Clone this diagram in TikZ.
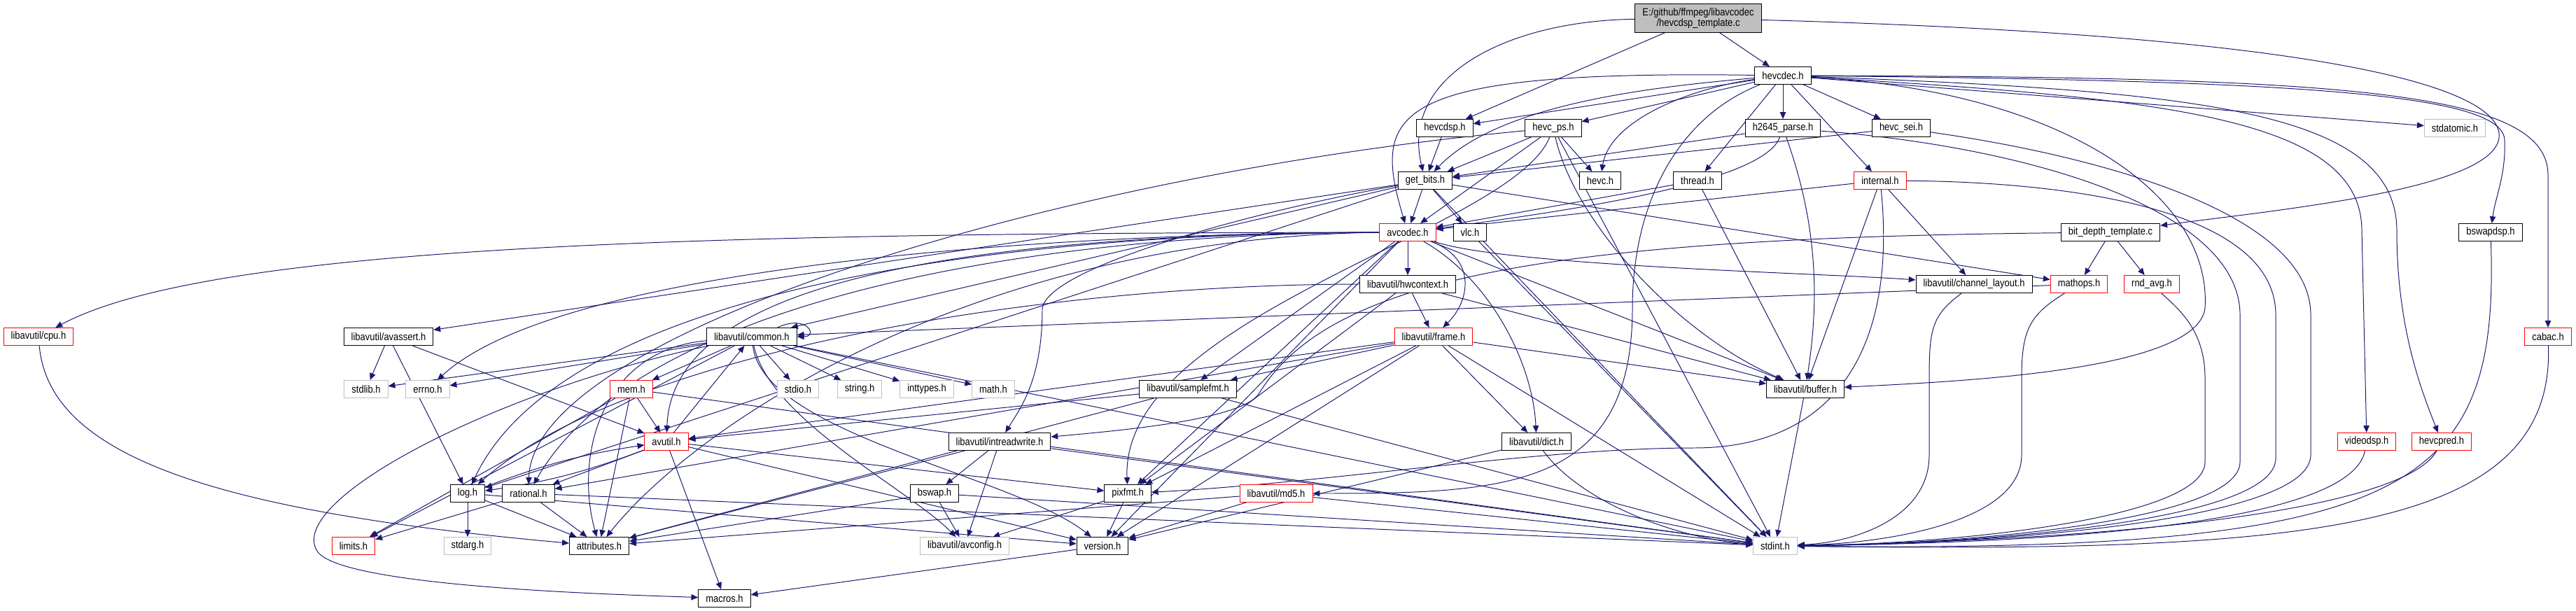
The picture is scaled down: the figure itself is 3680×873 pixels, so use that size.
\documentclass[tikz,border=0pt]{standalone}
\usepackage{fontspec}
\newfontfamily\dxfont[FakeStretch=0.87]{Liberation Sans}
\usepackage{tikz}
\usetikzlibrary{arrows.meta,backgrounds}
\definecolor{edgeblue}{RGB}{25,25,112}
\definecolor{sysgray}{RGB}{191,191,191}

\begin{document}
\begin{tikzpicture}[
  x=0.025cm, y=-0.025cm,
  box/.style={draw, fill=white, line width=0.7pt, minimum height=0.625cm, inner xsep=7.5pt, inner ysep=0pt,
    font=\dxfont\fontsize{10.6pt}{10.6pt}\selectfont},
  redbox/.style={box, draw=red},
  sysbox/.style={box, draw=sysgray},
  rootbox/.style={box, fill=sysgray, align=center, minimum height=1cm},
  arr/.style={-{Triangle[length=7pt,width=6pt]}, color=edgeblue, line width=0.7pt}
]
\useasboundingbox (0,0) rectangle (3680,873);

\node[rootbox] (root) at (2426,26) {E:/github/ffmpeg/libavcodec\\/hevcdsp\_template.c};
\node[box] (hevcdec) at (2547,108) {hevcdec.h};
\node[box] (hevcdsp) at (2064,183) {hevcdsp.h};
\node[box] (hevcps) at (2219,183) {hevc\_ps.h};
\node[box] (h2645) at (2547,183) {h2645\_parse.h};
\node[box] (hevcsei) at (2716,183) {hevc\_sei.h};
\node[sysbox] (stdatomic) at (3507,183) {stdatomic.h};
\node[box] (getbits) at (2036,258) {get\_bits.h};
\node[box] (hevch) at (2286,258) {hevc.h};
\node[box] (thread) at (2425,258) {thread.h};
\node[redbox] (internal) at (2686,258) {internal.h};
\node[redbox] (avcodec) at (2011,332) {avcodec.h};
\node[box] (vlc) at (2100,332) {vlc.h};
\node[box] (bitdepth) at (3015,332) {bit\_depth\_template.c};
\node[box] (bswapdsp) at (3558,332) {bswapdsp.h};
\node[box] (hwcontext) at (2011,406) {libavutil/hwcontext.h};
\node[box] (chlayout) at (2820,406) {libavutil/channel\_layout.h};
\node[redbox] (mathops) at (2970,406) {mathops.h};
\node[redbox] (rndavg) at (3074,406) {rnd\_avg.h};
\node[redbox] (cpu) at (55,481) {libavutil/cpu.h};
\node[box] (avassert) at (555,481) {libavutil/avassert.h};
\node[box] (common) at (1074,481) {libavutil/common.h};
\node[redbox] (frame) at (2048,481) {libavutil/frame.h};
\node[redbox] (cabac) at (3640,481) {cabac.h};
\node[sysbox] (stdlib) at (523,556) {stdlib.h};
\node[sysbox] (errno) at (611,556) {errno.h};
\node[redbox] (mem) at (902,556) {mem.h};
\node[sysbox] (stdio) at (1140,556) {stdio.h};
\node[sysbox] (string) at (1228,556) {string.h};
\node[sysbox] (inttypes) at (1324,556) {inttypes.h};
\node[sysbox] (math) at (1419,556) {math.h};
\node[box] (samplefmt) at (1697,556) {libavutil/samplefmt.h};
\node[box] (buffer) at (2579,556) {libavutil/buffer.h};
\node[redbox] (avutil) at (952,631) {avutil.h};
\node[box] (intreadwrite) at (1428,631) {libavutil/intreadwrite.h};
\node[box] (dict) at (2195,631) {libavutil/dict.h};
\node[redbox] (videodsp) at (3381,631) {videodsp.h};
\node[redbox] (hevcpred) at (3488,631) {hevcpred.h};
\node[box] (log) at (668,705) {log.h};
\node[box] (rational) at (755,705) {rational.h};
\node[box] (bswap) at (1335,705) {bswap.h};
\node[box] (pixfmt) at (1611,705) {pixfmt.h};
\node[redbox] (md5) at (1823,705) {libavutil/md5.h};
\node[redbox] (limits) at (505,780) {limits.h};
\node[sysbox] (stdarg) at (668,780) {stdarg.h};
\node[box] (attributes) at (856,780) {attributes.h};
\node[sysbox] (avconfig) at (1378,780) {libavutil/avconfig.h};
\node[box] (version) at (1575,780) {version.h};
\node[sysbox] (stdint) at (2536,780) {stdint.h};
\node[box] (macros) at (1035,855) {macros.h};

\begin{scope}[on background layer]
\draw[arr] (root) .. controls (2150,30) and (2000,110) .. (getbits);
\draw[arr] (root) -- (hevcdsp);
\draw[arr] (root) -- (hevcdec);
\draw[arr] (root) .. controls (3300,50) and (3560,120) .. (3570,190) .. controls (3580,270) and (3250,300) .. (bitdepth);

\draw[arr] (hevcdec) -- (hevcdsp);
\draw[arr] (hevcdec) -- (hevcps);
\draw[arr] (hevcdec) .. controls (2350,125) and (2140,150) .. (getbits);
\draw[arr] (hevcdec) .. controls (2420,125) and (2300,170) .. (hevch);
\draw[arr] (hevcdec) .. controls (1980,100) and (1960,160) .. (avcodec);
\draw[arr] (hevcdec) -- (thread);
\draw[arr] (hevcdec) -- (h2645);
\draw[arr] (hevcdec) -- (hevcsei);
\draw[arr] (hevcdec) -- (internal);
\draw[arr] (hevcdec) .. controls (2390,170) and (2332,300) .. (2332,440) .. controls (2332,700) and (2150,705) .. (md5);
\draw[arr] (hevcdec) .. controls (2950,130) and (3160,280) .. (3150,440) .. controls (3140,530) and (2800,545) .. (buffer);
\draw[arr] (hevcdec) -- (stdatomic);
\draw[arr] (hevcdec) .. controls (3300,115) and (3575,135) .. (3578,200) .. controls (3580,250) and (3565,280) .. (bswapdsp);
\draw[arr] (hevcdec) .. controls (3350,110) and (3640,130) .. (3640,250) -- (cabac);
\draw[arr] (hevcdec) .. controls (3100,140) and (3374,170) .. (3374,330) -- (videodsp);
\draw[arr] (hevcdec) .. controls (3150,130) and (3424,160) .. (3424,330) .. controls (3424,470) and (3460,560) .. (hevcpred);

\draw[arr] (hevcdsp) -- (getbits);
\draw[arr] (hevcps) -- (getbits);
\draw[arr] (hevcps) -- (hevch);
\draw[arr] (hevcps) -- (avcodec);
\draw[arr] (hevcps) .. controls (1500,250) and (760,480) .. (rational);
\draw[arr] (hevcps) .. controls (2160,330) and (1600,450) .. (pixfmt);
\draw[arr] (hevcps) .. controls (2250,320) and (2400,480) .. (buffer);
\draw[arr] (hevcps) -- (stdint);
\draw[arr] (h2645) -- (getbits);
\draw[arr] (h2645) .. controls (2520,260) and (2250,300) .. (avcodec);
\draw[arr] (h2645) .. controls (2600,330) and (2597,440) .. (buffer);
\draw[arr] (h2645) .. controls (2900,210) and (3200,300) .. (3200,450) -- (3200,660) .. controls (3200,745) and (2800,778) .. (stdint);
\draw[arr] (hevcsei) -- (getbits);
\draw[arr] (hevcsei) .. controls (2980,220) and (3301,300) .. (3301,450) -- (3301,650) .. controls (3301,750) and (2800,778) .. (stdint);

\draw[arr] (internal) -- (avcodec);
\draw[arr] (internal) -- (chlayout);
\draw[arr] (internal) -- (buffer);
\draw[arr] (internal) .. controls (2710,500) and (2620,640) .. (2420,640) .. controls (2200,640) and (1900,690) .. (pixfmt);
\draw[arr] (internal) .. controls (2960,260) and (3251,300) .. (3251,450) -- (3251,655) .. controls (3251,748) and (2800,778) .. (stdint);
\draw[arr] (thread) -- (avcodec);
\draw[arr] (thread) -- (buffer);

\draw[arr] (getbits) -- (avcodec);
\draw[arr] (getbits) -- (vlc);
\draw[arr] (getbits) -- (mathops);
\draw[arr] (getbits) -- (stdint);
\draw[arr] (getbits) -- (common);
\draw[arr] (getbits) .. controls (1800,300) and (1500,380) .. (1489,440) .. controls (1489,540) and (1460,580) .. (intreadwrite);
\draw[arr] (getbits) -- (log);
\draw[arr] (getbits) -- (avassert);

\draw[arr] (avcodec.west) .. controls (1500,333) and (800,380) .. (errno);
\draw[arr] (avcodec) -- (samplefmt);
\draw[arr] (avcodec.west) .. controls (1400,340) and (1000,600) .. (attributes);
\draw[arr] (avcodec.west) .. controls (1300,335) and (960,420) .. (avutil);
\draw[arr] (avcodec) -- (buffer);
\draw[arr] (avcodec.west) .. controls (1000,333) and (300,350) .. (cpu);
\draw[arr] (avcodec) .. controls (2150,380) and (2600,390) .. (chlayout);
\draw[arr] (avcodec) .. controls (2130,400) and (2190,520) .. (dict);
\draw[arr] (avcodec) .. controls (2110,370) and (2100,430) .. (frame);
\draw[arr] (avcodec) -- (hwcontext);
\draw[arr] (avcodec.west) .. controls (1400,333) and (800,420) .. (log);
\draw[arr] (avcodec) -- (pixfmt);
\draw[arr] (avcodec.west) .. controls (1400,335) and (900,450) .. (rational);
\draw[arr] (avcodec) -- (version);

\draw[arr] (hwcontext) -- (frame);
\draw[arr] (hwcontext) -- (buffer);
\draw[arr] (hwcontext) .. controls (1500,406) and (900,500) .. (log);
\draw[arr] (hwcontext) -- (pixfmt);

\draw[arr] (frame) -- (avutil);
\draw[arr] (frame) -- (buffer);
\draw[arr] (frame) -- (dict);
\draw[arr] (frame) -- (rational);
\draw[arr] (frame) -- (samplefmt);
\draw[arr] (frame) -- (pixfmt);
\draw[arr] (frame) -- (version);
\draw[arr] (frame) -- (stdint);
\draw[arr] (samplefmt) -- (avutil);
\draw[arr] (samplefmt) -- (attributes);
\draw[arr] (samplefmt) -- (stdint);

\draw[arr] (cpu) .. controls (70,650) and (300,730) .. (attributes);
\draw[arr] (chlayout) .. controls (2760,450) and (2756,470) .. (2756,540) -- (2756,650) .. controls (2756,740) and (2650,775) .. (stdint);
\draw[arr] (mathops) -- (common);
\draw[arr] (mathops) .. controls (2900,450) and (2888,470) .. (2888,540) -- (2888,650) .. controls (2888,745) and (2700,776) .. (stdint);
\draw[arr] (rndavg) .. controls (3110,440) and (3150,470) .. (3150,540) -- (3150,660) .. controls (3150,740) and (2800,777) .. (stdint);
\draw[arr] (bitdepth) -- (mathops);
\draw[arr] (bitdepth) -- (rndavg);
\draw[arr] (bitdepth) .. controls (2200,340) and (1900,400) .. (1800,560) .. controls (1780,600) and (1600,615) .. (intreadwrite);
\draw[arr] (bswapdsp) .. controls (3570,700) and (3450,790) .. (stdint);
\draw[arr] (cabac) .. controls (3650,760) and (3300,790) .. (stdint);
\draw[arr] (videodsp) .. controls (3360,740) and (3000,775) .. (stdint);
\draw[arr] (hevcpred) .. controls (3440,720) and (3100,770) .. (stdint);
\draw[arr] (vlc) -- (stdint);
\draw[arr] (buffer) -- (stdint);
\draw[arr] (dict) .. controls (2260,720) and (2400,770) .. (stdint);
\draw[arr] (dict) -- (version);
\draw[arr] (md5) -- (stdint);
\draw[arr] (md5) -- (attributes);
\draw[arr] (md5) -- (version);

\draw[arr] ([xshift=-20pt]common.north east) .. controls +(30pt,14pt) and +(22pt,0pt) .. (common.east);
\draw[arr] (common) -- (errno);
\draw[arr] (common) -- (inttypes);
\draw[arr] (common) -- (limits);
\draw[arr] (common) -- (math);
\draw[arr] (common) -- (stdint);
\draw[arr] (common) -- (stdio);
\draw[arr] (common) -- (stdlib);
\draw[arr] (common) -- (string);
\draw[arr] (common) .. controls (860,500) and (820,650) .. (attributes);
\draw[arr] (common) .. controls (700,560) and (400,720) .. (455,790) .. controls (500,840) and (900,850) .. (macros);
\draw[arr] (common) .. controls (1090,620) and (1450,680) .. (version);
\draw[arr] (common) .. controls (1100,600) and (1300,700) .. (avconfig);
\draw[arr] (common) -- (mem);

\draw[arr] (mem) -- (limits);
\draw[arr] (mem) -- (stdint);
\draw[arr] (mem) -- (attributes);
\draw[arr] (mem) -- (avutil);
\draw[arr] (avutil) -- (common);
\draw[arr] (avutil) -- (rational);
\draw[arr] (avutil) to[bend left=6] (log);
\draw[arr] (avutil) -- (macros);
\draw[arr] (avutil) -- (version);
\draw[arr] (avutil) -- (pixfmt);
\draw[arr] (log) -- (stdarg);
\draw[arr] (log) to[bend left=6] (avutil);
\draw[arr] (log) -- (attributes);
\draw[arr] (log) -- (version);
\draw[arr] (rational) -- (limits);
\draw[arr] (rational) -- (attributes);
\draw[arr] (rational) -- (stdint);
\draw[arr] (intreadwrite) -- (bswap);
\draw[arr] (intreadwrite) -- (avconfig);
\draw[arr] (intreadwrite) -- (attributes);
\draw[arr] (intreadwrite) -- (stdint);
\draw[arr] (bswap) -- (avconfig);
\draw[arr] (bswap) -- (attributes);
\draw[arr] (bswap) -- (stdint);
\draw[arr] (pixfmt) -- (version);
\draw[arr] (pixfmt) -- (avconfig);
\draw[arr] (version) -- (macros);
\draw[arr] (avassert) -- (stdlib);
\draw[arr] (avassert) -- (avutil);
\draw[arr] (avassert) -- (log);
\end{scope}
\end{tikzpicture}
\end{document}
